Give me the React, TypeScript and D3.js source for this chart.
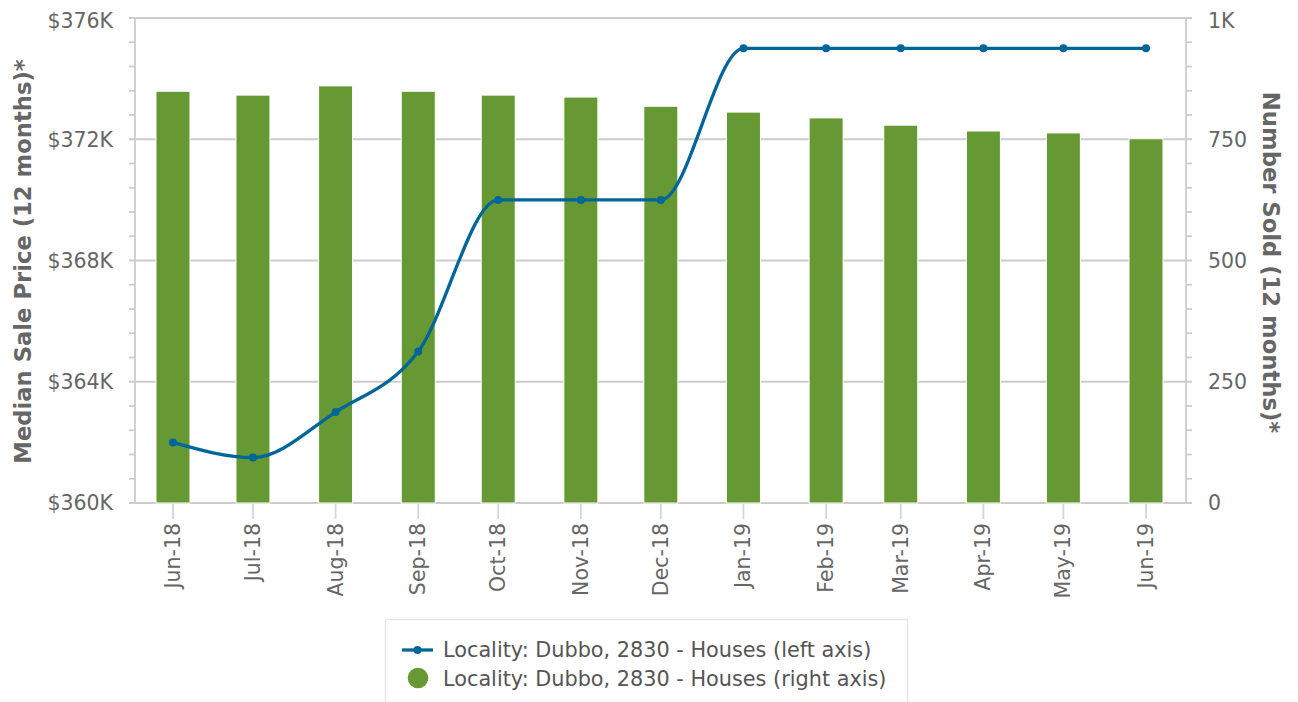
import React from "react";
import * as d3 from "d3";

const months = ["2018-06-01","2018-07-01","2018-08-01","2018-09-01","2018-10-01","2018-11-01","2018-12-01","2019-01-01","2019-02-01","2019-03-01","2019-04-01","2019-05-01","2019-06-01"];
const monthLabels = ["Jun-18","Jul-18","Aug-18","Sep-18","Oct-18","Nov-18","Dec-18","Jan-19","Feb-19","Mar-19","Apr-19","May-19","Jun-19"];
const medianPrice = [362000, 361500, 363000, 365000, 370000, 370000, 370000, 375000, 375000, 375000, 375000, 375000, 375000];
const numberSold = [849, 841, 860, 849, 841, 837, 818, 806, 794, 779, 767, 763, 751];
const leftTicks = [360000, 364000, 368000, 372000, 376000];
const leftTickLabels = ["$360K", "$364K", "$368K", "$372K", "$376K"];
const rightTicks = [0, 250, 500, 750, 1000];
const rightTickLabels = ["0", "250", "500", "750", "1K"];
const lineName = "Locality: Dubbo, 2830 - Houses (left axis)";
const barName = "Locality: Dubbo, 2830 - Houses (right axis)";

const W = 1298, H = 702;
const L = 135, R = 1186, T = 18, B = 503;
const FONT = "'DejaVu Sans', Verdana, sans-serif";
const TXT = "#666666";
const GRID = "#cccccc";
const GREEN = "#669933";
const BLUE = "#006699";

export default function App() {
  const parse = d3.utcParse("%Y-%m-%d");
  const dates = months.map((m) => parse(m) as Date);
  const x = d3.scaleUtc()
    .domain([new Date(Date.UTC(2018, 4, 17, 18)), new Date(Date.UTC(2019, 5, 16))])
    .range([L, R]);
  const yL = d3.scaleLinear().domain([360000, 376000]).range([B, T]);
  const yR = d3.scaleLinear().domain([0, 1000]).range([B, T]);
  const barW = 34;

  const minorL = d3.range(360000, 376001, 800).filter((v) => !leftTicks.includes(v));
  const minorR = d3.range(0, 1001, 50).filter((v) => !rightTicks.includes(v));

  const line = d3.line<number>()
    .x((_, i) => x(dates[i]))
    .y((d) => yL(d))
    .curve(d3.curveMonotoneX);

  return (
    <svg width={W} height={H} style={{ position: "absolute", left: 0, top: 0, background: "#fff" }} fontFamily={FONT}>
      <rect x={0} y={0} width={W} height={H} fill="#fff" />
      {leftTicks.map((v) => (
        <line key={"g" + v} x1={L - 6} x2={R + 6} y1={yL(v)} y2={yL(v)} stroke={GRID} strokeWidth={1.8} />
      ))}
      {minorL.map((v) => (
        <line key={"ml" + v} x1={L - 6} x2={L} y1={yL(v)} y2={yL(v)} stroke={GRID} strokeWidth={1.8} />
      ))}
      {minorR.map((v) => (
        <line key={"mr" + v} x1={R} x2={R + 6} y1={yR(v)} y2={yR(v)} stroke={GRID} strokeWidth={1.8} />
      ))}
      <line x1={L} x2={L} y1={T} y2={B} stroke={GRID} strokeWidth={1.8} />
      <line x1={R} x2={R} y1={T} y2={B} stroke={GRID} strokeWidth={1.8} />
      <line x1={L} x2={R + 6} y1={B} y2={B} stroke={GRID} strokeWidth={1.8} />
      {dates.map((d, i) => (
        <line key={"xt" + i} x1={x(d)} x2={x(d)} y1={B} y2={B + 16} stroke="#ccd6eb" strokeWidth={1.8} />
      ))}
      {numberSold.map((v, i) => (
        <rect key={"b" + i} x={x(dates[i]) - barW / 2} y={yR(v)} width={barW} height={yR(0) - yR(v)}
          fill={GREEN} stroke="#ffffff" strokeWidth={1} />
      ))}
      <path d={line(medianPrice) || ""} fill="none" stroke={BLUE} strokeWidth={3.3} strokeLinejoin="round" strokeLinecap="round" />
      {medianPrice.map((v, i) => (
        <circle key={"p" + i} cx={x(dates[i])} cy={yL(v)} r={4} fill={BLUE} />
      ))}
      {leftTicks.map((v, i) => (
        <text key={"lt" + v} x={113} y={yL(v) + (i === leftTicks.length - 1 ? 3 : 0)} dy="0.36em" textAnchor="end"
          fontSize={20.5} fill={TXT}>{leftTickLabels[i]}</text>
      ))}
      {rightTicks.map((v, i) => (
        <text key={"rt" + v} x={1208} y={yR(v) + (i === rightTicks.length - 1 ? 3 : 0)} dy="0.36em" textAnchor="start"
          fontSize={20.5} fill={TXT}>{rightTickLabels[i]}</text>
      ))}
      {dates.map((d, i) => (
        <text key={"xl" + i} transform={`translate(${x(d) + 7},${B + 20}) rotate(-90)`} textAnchor="end"
          fontSize={20.5} fill={TXT}>{monthLabels[i]}</text>
      ))}
      <text transform={`translate(31,${(T + B) / 2 + 1}) rotate(-90)`} textAnchor="middle" fontSize={22.7}
        fontWeight="bold" fill={TXT}>Median Sale Price (12 months)*</text>
      <text transform={`translate(1263,${(T + B) / 2 + 2}) rotate(90)`} textAnchor="middle" fontSize={22.7}
        fontWeight="bold" fill={TXT}>Number Sold (12 months)*</text>
      <rect x={385.5} y={619.5} width={522} height={100} fill="#fff" stroke="#e6e6e6" strokeWidth={1.5} />
      <line x1={402} x2={433} y1={650} y2={650} stroke={BLUE} strokeWidth={3.3} />
      <circle cx={417.5} cy={650} r={4} fill={BLUE} />
      <text x={443} y={656.5} fontSize={20.8} fill="#555555">{lineName}</text>
      <circle cx={418} cy={678} r={10.3} fill={GREEN} />
      <text x={443} y={685.5} fontSize={20.8} fill="#555555">{barName}</text>
    </svg>
  );
}
